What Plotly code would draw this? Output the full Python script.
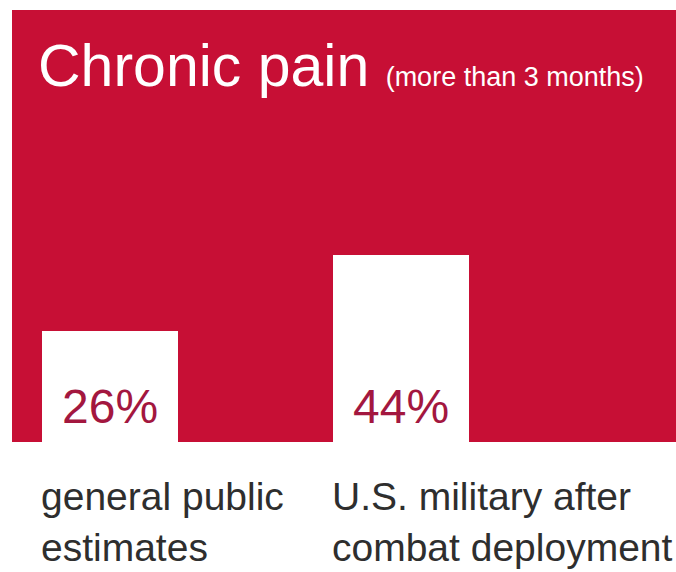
import plotly.graph_objects as go

categories = ["general public<br>estimates", "U.S. military after<br>combat deployment"]
values = [26, 44]
value_labels = ["26%", "44%"]
title_main = "Chronic pain"
title_sub = "(more than 3 months)"

RED = "#c70f35"
PCT = "#a3173f"
GREY = "#2e2e2e"
FONT = "Liberation Sans, Arial, sans-serif"

xs = list(range(len(values)))
bar_w = 0.467

fig = go.Figure()
fig.add_trace(go.Bar(
    x=xs, y=values, width=bar_w,
    marker=dict(color="white", line=dict(width=0)),
    hoverinfo="skip",
))

annotations = []
for xi, lab, cat in zip(xs, value_labels, categories):
    annotations.append(dict(
        x=xi, y=0, xref="x", yref="y", text=lab, showarrow=False,
        xanchor="center", yanchor="bottom", yshift=7,
        font=dict(family=FONT, size=48, color=PCT),
    ))
    annotations.append(dict(
        x=xi - bar_w / 2, y=0, xref="x", yref="paper", text=cat, showarrow=False,
        xanchor="left", yanchor="top", align="left", xshift=-3, yshift=-31,
        font=dict(family=FONT, size=39, color=GREY),
    ))

annotations.append(dict(
    x=0.036, y=0.87, xref="paper", yref="paper",
    text=f"{title_main} <span style='font-size:27px'>{title_sub}</span>",
    showarrow=False, xanchor="left", yanchor="middle",
    font=dict(family=FONT, size=59, color="white"),
))

fig.update_layout(
    width=676, height=572,
    margin=dict(l=12, r=0, t=10, b=130),
    paper_bgcolor="white", plot_bgcolor=RED,
    showlegend=False, bargap=0,
    xaxis=dict(range=[-0.3368, 1.945], visible=False, fixedrange=True),
    yaxis=dict(range=[0, 101.5], visible=False, fixedrange=True),
    annotations=annotations,
)

fig.write_html("out.html")
